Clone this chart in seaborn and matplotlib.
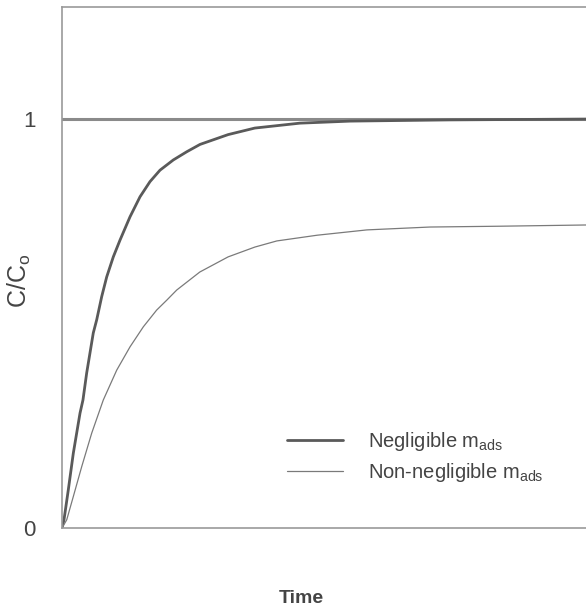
import matplotlib
matplotlib.use("Agg")
import matplotlib.pyplot as plt
import pandas as pd
import seaborn as sns

# curves (time in arbitrary units, 0..100)
t_neg = [0, 0.38, 1.20, 2.16, 3.44, 4.0, 4.71, 5.97, 6.62, 7.58, 8.53, 9.79, 11.07,
         12.98, 14.89, 16.79, 18.70, 21.24, 23.80, 26.34, 31.7, 36.8, 45.4, 55, 74, 100]
c_neg = [0, 0.020, 0.093, 0.183, 0.281, 0.313, 0.379, 0.477, 0.509, 0.566, 0.614, 0.663, 0.704,
         0.761, 0.810, 0.847, 0.875, 0.900, 0.920, 0.938, 0.962, 0.978, 0.990, 0.995, 0.998, 1.0]

t_non = [0, 0.90, 2.16, 3.76, 5.67, 7.88, 10.44, 12.98, 15.52, 18.07, 19.98, 21.9,
         26.3, 31.7, 36.8, 41.0, 48.7, 58.2, 70.2, 83.6, 100]
c_non = [0, 0.020, 0.077, 0.150, 0.232, 0.313, 0.386, 0.443, 0.492, 0.533, 0.557, 0.582,
         0.626, 0.663, 0.687, 0.702, 0.716, 0.729, 0.736, 0.738, 0.741]

asymptote = 1.0
yticks = [0, 1]

lab_neg = r"Negligible m$_{\mathrm{ads}}$"
lab_non = r"Non-negligible m$_{\mathrm{ads}}$"

df = pd.concat([
    pd.DataFrame({"t": t_neg, "c": c_neg, "case": lab_neg}),
    pd.DataFrame({"t": t_non, "c": c_non, "case": lab_non}),
])

sns.set_style("white")
plt.rcParams["font.family"] = ["Liberation Sans", "DejaVu Sans"]
plt.rcParams["mathtext.fontset"] = "custom"
plt.rcParams["mathtext.rm"] = "Liberation Sans"
plt.rcParams["mathtext.it"] = "Liberation Sans"

fig = plt.figure(figsize=(5.86, 6.10), dpi=100)
ax = fig.add_axes([0.1058, 0.1344, 0.8942, 0.8541])

ax.axhline(asymptote, color="#8a8a8a", lw=2.2, zorder=1)
sns.lineplot(data=df, x="t", y="c", hue="case", size="case",
             palette={lab_neg: "#5a5a5a", lab_non: "#7a7a7a"},
             sizes={lab_neg: 2.0, lab_non: 0.9}, ax=ax, legend=True)

ax.set_xlim(0, 100)
ax.set_ylim(0, 1.274)
ax.set_xticks([])
ax.set_yticks(yticks)
ax.set_yticklabels([str(v) for v in yticks], fontsize=16, color="#444444")
ax.tick_params(axis="y", length=0, pad=19)

for s in ["left", "top", "bottom"]:
    ax.spines[s].set_color("#999999")
    ax.spines[s].set_linewidth(1.2)
ax.spines["right"].set_visible(False)

ax.set_xlabel("Time", fontsize=14, fontweight="bold", color="#444444")
ax.xaxis.set_label_coords(0.457, -0.119)
ax.set_ylabel(r"C/C$_{\mathrm{o}}$", fontsize=18, color="#444444")
ax.yaxis.set_label_coords(-0.055, 0.474)

leg = ax.legend(loc="center left", bbox_to_anchor=(0.411, 0.137), frameon=False,
                fontsize=14.5, handlelength=2.78, handletextpad=1.24, labelspacing=0.4,
                borderpad=0)
for txt in leg.get_texts():
    txt.set_color("#444444")

fig.savefig("out.png", dpi=100)
